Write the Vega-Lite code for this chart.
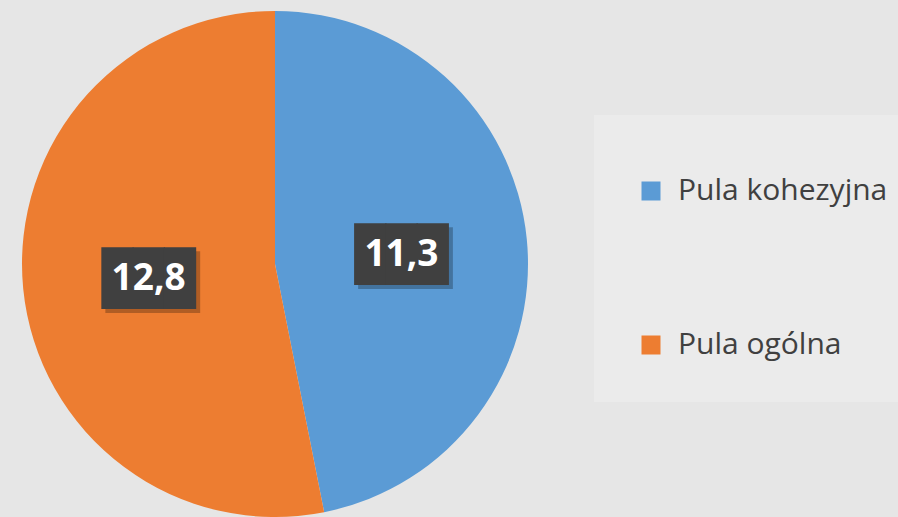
{
  "$schema": "https://vega.github.io/schema/vega-lite/v6.json",
  "width": 550,
  "height": 528,
  "autosize": {"type": "none"},
  "padding": {"left": 0, "top": 0, "right": 348, "bottom": -11},
  "background": "#e6e6e6",
  "config": {"view": {"stroke": null}},
  "data": {
    "values": [
      {"pula": "Pula kohezyjna", "value": 11.3, "label": "11,3"},
      {"pula": "Pula ogólna", "value": 12.8, "label": "12,8"}
    ]
  },
  "encoding": {
    "theta": {"field": "value", "type": "quantitative", "stack": true}
  },
  "layer": [
    {
      "mark": {"type": "arc", "outerRadius": 253},
      "encoding": {
        "color": {
          "field": "pula",
          "type": "nominal",
          "scale": {"domain": ["Pula kohezyjna", "Pula ogólna"], "range": ["#5b9bd5", "#ed7d31"]},
          "legend": {
            "orient": "none",
            "legendX": 594,
            "legendY": 115,
            "title": " ",
            "titleFontSize": 1,
            "titlePadding": 18,
            "symbolType": "square",
            "symbolSize": 361,
            "symbolStrokeWidth": 0,
            "labelFontSize": 30,
            "labelFont": "Open Sans",
            "labelColor": "#404040",
            "labelOffset": 12,
            "labelLimit": 400,
            "rowPadding": 124,
            "padding": 42,
            "fillColor": "#ebebeb"
          }
        }
      }
    },
    {
      "mark": {"type": "text", "radius": 127, "text": "███", "font": "DejaVu Sans Mono", "fontSize": 52, "baseline": "middle", "align": "center", "dx": 4, "dy": 8, "opacity": 0.25},
      "encoding": {"color": {"value": "#000000"}}
    },
    {
      "mark": {"type": "text", "radius": 127, "text": "███", "font": "DejaVu Sans Mono", "fontSize": 52, "baseline": "middle", "align": "center", "dy": 4},
      "encoding": {"color": {"value": "#404040"}}
    },
    {
      "mark": {"type": "text", "radius": 127, "font": "Open Sans", "fontWeight": "bold", "fontSize": 37, "baseline": "middle", "align": "center", "dy": 3},
      "encoding": {"text": {"field": "label"}, "color": {"value": "#ffffff"}}
    }
  ]
}
